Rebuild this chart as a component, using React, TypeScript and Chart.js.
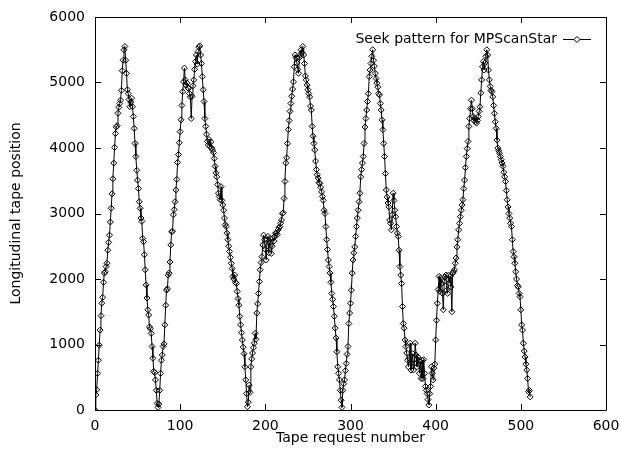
import React, { useEffect, useRef } from "react";
import { Chart, registerables } from "chart.js";

Chart.register(...registerables);

const seriesLabel = "Seek pattern for MPScanStar";
const xTitle = "Tape request number";
const yTitle = "Longitudinal tape position";
const xTickValues = [0, 100, 200, 300, 400, 500, 600];
const yTickValues = [0, 1000, 2000, 3000, 4000, 5000, 6000];

// longitudinal tape position of each tape request (request number = index)
const tapePositions = [
  0, 230, 310, 560, 760, 990, 1220, 1440, 1630, 1720, 1950, 2090, 2110, 2190, 2240, 2440, 2560, 2670, 2870, 3080,
  3300, 3530, 3770, 4010, 4220, 4320, 4340, 4530, 4620, 4680, 4730, 4880, 5180, 5340, 5500, 5550,
  5340, 5140, 4890, 4830, 4740, 4630, 4700, 4760, 4630, 4480, 4300, 4070, 3870, 3660, 3510, 3380, 3180, 3080, 2930,
  2880, 2620, 2570, 2370, 2140, 1910, 1710, 1530, 1450, 1270, 1240, 1170, 970, 790, 590, 570, 460, 300, 100, 40,
  90, 300, 560, 760, 840, 970, 1010, 1300, 1600, 1830, 1850, 2060, 2090, 2260, 2520, 2720, 2730, 2980, 3060, 3180,
  3360, 3520, 3780, 3900, 4080, 4250, 4430, 4650, 4860, 5010, 5220, 5040, 4960, 4990, 4920, 4910, 4830, 4780, 4450,
  4790, 4950, 5040, 5200, 5320, 5420, 5280, 5470, 5540, 5560,
  5420, 5290, 5090, 4890, 4710, 4450, 4330, 4210, 4100, 4050, 4130, 4020, 4090, 4000, 3970, 3930, 3840, 3720, 3620,
  3560, 3440, 3310, 3260, 3210, 3410, 3200, 3130, 3050, 2930, 2830, 2800, 2700, 2600, 2500, 2420, 2330, 2240, 2160,
  2040, 2000, 2060, 1950, 1930, 1810, 1700, 1600, 1430, 1300, 1180, 1070, 960, 860, 660, 460, 250, 50,
  120, 380, 270, 660, 780, 870, 950, 1020, 1170, 1080, 1480, 1620, 1780, 1960, 2140, 2250, 2340, 2520, 2670, 2600,
  2450, 2290, 2600, 2650, 2400, 2550, 2620, 2390, 2500, 2620, 2580, 2650, 2700, 2700, 2680, 2750, 2780, 2800, 2850,
  2900, 3000, 3010, 3230, 3490, 3770, 3850, 4070, 4280, 4420, 4560, 4680, 4790, 4900, 5010, 5240, 5420, 5380, 5300,
  5200, 5140, 5380, 5420, 5500, 5460, 5550,
  5420, 5290, 5100, 5040, 4960, 4890, 4830, 4780, 4640, 4580, 4330, 4180, 4070, 3970, 3800, 3670, 3590, 3540, 3470,
  3460, 3400, 3330, 3260, 3200, 3050, 3000, 2800, 2600, 2450, 2290, 2190, 2090, 1950, 1780, 1690, 1580, 1430, 1250,
  1100, 890, 660, 560, 460, 300, 150, 40,
  300, 400, 460, 600, 710, 850, 970, 1320, 1480, 1630, 1830, 2090, 2290, 2400, 2490, 2650, 2800, 2930, 3050, 3180,
  3310, 3560, 3670, 3770, 3870, 4070, 4320, 4450, 4580, 4710, 4830, 5090, 5190, 5290, 5400, 5500, 5340, 5250, 5140,
  5060, 4990, 4930, 4830, 4810,
  4680, 4580, 4430, 4280, 4070, 3870, 3610, 3360, 3250, 3160, 3100, 2900, 2850, 2750, 2980, 3310, 3200, 3050, 2950,
  2800, 2700, 2650, 2440, 2190, 2060, 1930, 1580, 1320, 1250, 1070, 970, 870, 760, 660, 790, 1020, 610, 710, 860,
  610, 710, 1020, 840, 660, 810, 760, 560, 740, 480, 760, 480, 770, 560, 360, 300, 250, 160,
  76, 250, 360, 660, 560, 460, 640, 700, 1070, 1370, 1630, 1840, 2040, 1810, 2020, 1930, 1780, 1530, 1960, 2030,
  2060, 1830, 1780, 2060, 1940, 2040, 1880, 1500, 2090, 2110, 2140, 2240, 2320, 2490, 2600, 2750, 2850, 2950, 3050,
  3130, 3210, 3380, 3510, 3700, 3870, 3990, 4100, 4330, 4450, 4600, 4730, 4600, 4480, 4420, 4450, 4400, 4380, 4420,
  4480, 4560, 4630, 4840, 5040, 5240, 5320, 5190, 5300, 5400, 5500, 5420, 5190, 5040, 4940, 4880, 4860, 4780, 4650,
  4530, 4400, 4300, 4120, 4000, 3960, 3920, 3870, 3820, 3770, 3720, 3630, 3560, 3490, 3350, 3210, 3100, 3000, 2930,
  2850, 2800, 2600, 2420, 2340, 2240, 2110, 2000, 1900, 1880, 1780, 1730, 1530, 1300, 1220, 1020, 900, 810, 700,
  610, 480, 280, 300, 200,
];

const FONT_FAMILY = "'DejaVu Sans', 'Liberation Sans', Arial, sans-serif";
const FONT_SIZE = 14;

const framePlugin = {
  id: "gnuplotFrame",
  afterDatasetsDraw(chart: any) {
    const { ctx, chartArea, scales } = chart;
    const { left, right, top, bottom } = chartArea;
    const xs = scales.x;
    const ys = scales.y;
    ctx.save();
    ctx.strokeStyle = "#000";
    ctx.lineWidth = 1;
    ctx.beginPath();
    ctx.rect(Math.round(left) + 0.5, Math.round(top) + 0.5, Math.round(right - left), Math.round(bottom - top));
    ctx.stroke();
    const tl = 6;
    ctx.beginPath();
    xTickValues.forEach((v) => {
      const px = Math.round(xs.getPixelForValue(v)) + 0.5;
      ctx.moveTo(px, bottom);
      ctx.lineTo(px, bottom - tl);
      ctx.moveTo(px, top);
      ctx.lineTo(px, top + tl);
    });
    yTickValues.forEach((v) => {
      const py = Math.round(ys.getPixelForValue(v)) + 0.5;
      ctx.moveTo(left, py);
      ctx.lineTo(left + tl, py);
      ctx.moveTo(right, py);
      ctx.lineTo(right - tl, py);
    });
    ctx.stroke();

    // gnuplot-style key: text right-aligned, then line sample with a point
    const ky = top + 22.5;
    const textRight = right - 49;
    ctx.fillStyle = "#000";
    ctx.font = `${FONT_SIZE}px ${FONT_FAMILY}`;
    ctx.textAlign = "right";
    ctx.textBaseline = "middle";
    ctx.fillText(seriesLabel, textRight, ky);
    const x0 = right - 43;
    const x1 = right - 15;
    ctx.beginPath();
    ctx.moveTo(x0, ky);
    ctx.lineTo(x1, ky);
    ctx.stroke();
    const cx = (x0 + x1) / 2;
    const r = 3;
    ctx.beginPath();
    ctx.moveTo(cx, ky - r);
    ctx.lineTo(cx + r, ky);
    ctx.lineTo(cx, ky + r);
    ctx.lineTo(cx - r, ky);
    ctx.closePath();
    ctx.fillStyle = "#fff";
    ctx.fill();
    ctx.stroke();
    ctx.restore();
  },
};

export default function App() {
  const canvasRef = useRef<HTMLCanvasElement | null>(null);

  useEffect(() => {
    const canvas = canvasRef.current;
    if (!canvas) return;
    const points = tapePositions.map((y, i) => ({ x: i, y }));
    const font = { family: FONT_FAMILY, size: FONT_SIZE };
    const chart = new Chart(canvas, {
      type: "scatter",
      data: {
        datasets: [
          {
            label: seriesLabel,
            data: points,
            showLine: true,
            borderColor: "#000",
            borderWidth: 1,
            pointStyle: "rectRot",
            pointRadius: 3,
            pointBorderWidth: 1,
            pointBorderColor: "#000",
            pointBackgroundColor: "rgba(255,255,255,0)",
          },
        ],
      },
      options: {
        animation: false,
        responsive: false,
        events: [],
        layout: { padding: { left: 0, right: 15, top: 17, bottom: 0 } },
        plugins: {
          legend: { display: false },
          tooltip: { enabled: false },
        },
        scales: {
          x: {
            type: "linear",
            min: 0,
            max: 600,
            afterBuildTicks: (s: any) => {
              s.ticks = xTickValues.map((v) => ({ value: v }));
            },
            afterFit: (s: any) => {
              s.height = 40;
              s.paddingLeft = 0;
              s.paddingRight = 0;
            },
            ticks: {
              font,
              color: "#000",
              padding: 8,
              maxRotation: 0,
              autoSkip: false,
              callback: (v: any) => String(v),
            },
            grid: { display: false, drawTicks: false },
            border: { display: false },
            title: {
              display: true,
              text: xTitle,
              font,
              color: "#000",
              padding: { top: 0, bottom: 3 },
            },
          },
          y: {
            type: "linear",
            min: 0,
            max: 6000,
            afterBuildTicks: (s: any) => {
              s.ticks = yTickValues.map((v) => ({ value: v }));
            },
            afterFit: (s: any) => {
              s.width = 95;
              s.paddingTop = 0;
              s.paddingBottom = 0;
            },
            ticks: { font, color: "#000", padding: 10, autoSkip: false, callback: (v: any) => String(v) },
            grid: { display: false, drawTicks: false },
            border: { display: false },
            title: {
              display: true,
              text: yTitle,
              font,
              color: "#000",
              padding: { top: 8, bottom: 0 },
            },
          },
        },
      },
      plugins: [framePlugin],
    });
    return () => chart.destroy();
  }, []);

  return (
    <div style={{ position: "absolute", left: 0, top: 0, width: 621, height: 450, background: "#fff" }}>
      <canvas ref={canvasRef} width={621} height={450} style={{ display: "block" }} />
    </div>
  );
}
